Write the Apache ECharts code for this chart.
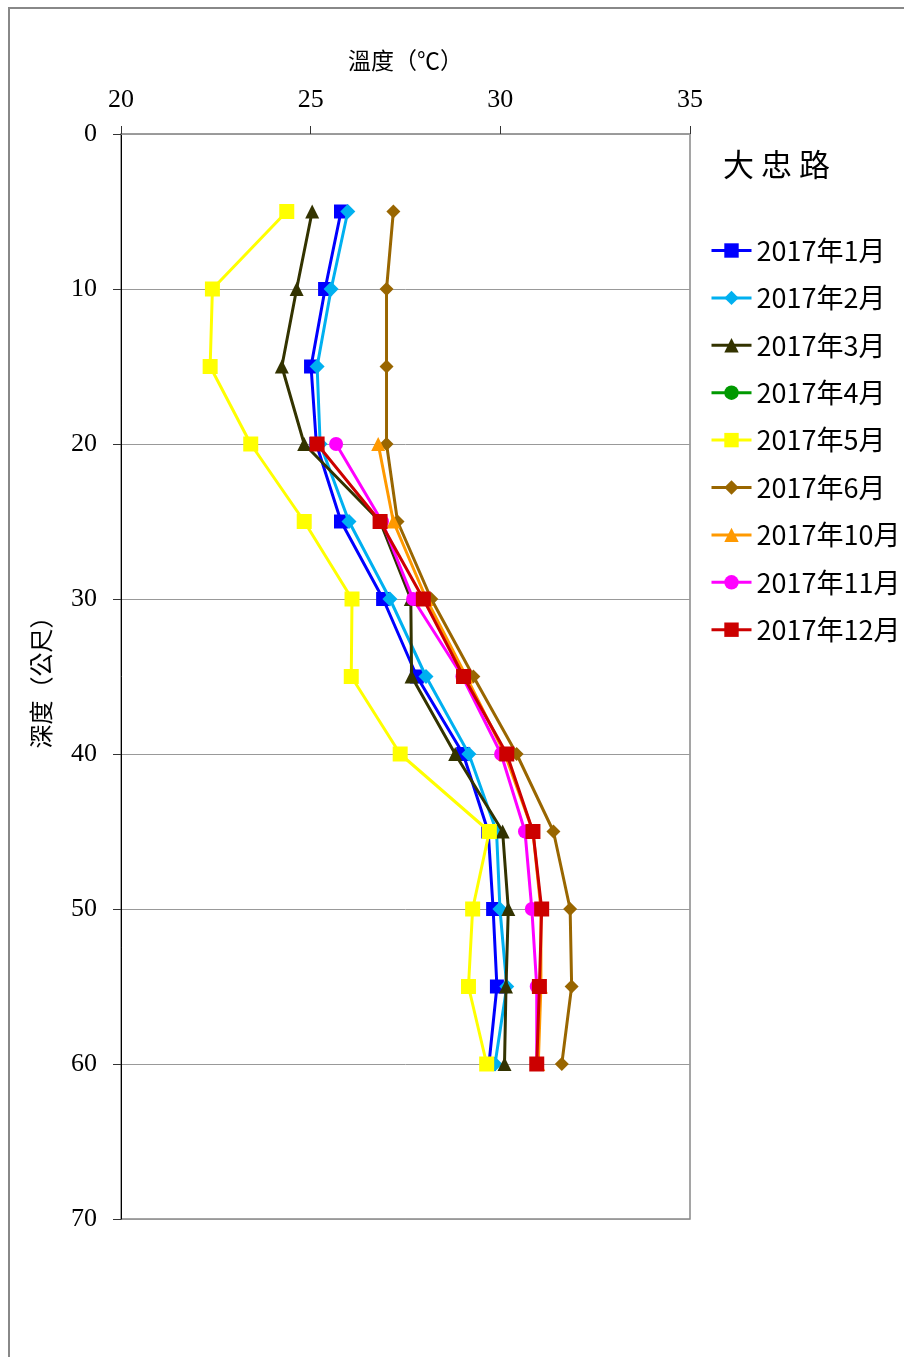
<!DOCTYPE html>
<html>
<head>
<meta charset="utf-8">
<script src="https://cdn.jsdelivr.net/npm/echarts@6/dist/echarts.min.js"></script>
<style>
  html, body { margin: 0; padding: 0; background: #fff; }
  #chart { width: 904px; height: 1357px; }
</style>
</head>
<body>
<div id="chart"></div>
<script>
// Depth profile of ground temperature at 大忠路, 2017
const depths = [5, 10, 15, 20, 25, 30, 35, 40, 45, 50, 55, 60];
const depthTicks = [0, 10, 20, 30, 40, 50, 60, 70];
const tempTicks = [20, 25, 30, 35];

const jan = [25.80, 25.38, 25.01, 25.15, 25.80, 26.91, 27.80, 29.02, 29.68, 29.81, 29.91, 29.70];
const feb = [25.98, 25.54, 25.17, 25.25, 26.01, 27.09, 28.04, 29.17, 29.90, 29.99, 30.17, 29.86];
const mar = [25.04, 24.63, 24.24, 24.83, 26.83, 27.64, 27.66, 28.81, 30.06, 30.21, 30.15, 30.11];
const apr = [];
const may = [24.37, 22.41, 22.35, 23.42, 24.83, 26.09, 26.07, 27.36, 29.71, 29.27, 29.16, 29.64];
const jun = [27.18, 27.00, 27.00, 27.00, 27.29, 28.18, 29.29, 30.43, 31.40, 31.84, 31.88, 31.62];
const oct = [null, null, null, 26.78, 27.18, 28.05, 29.10, 30.12, 30.86, 31.07, 31.07, 31.00];
const nov = [null, null, null, 25.67, 26.88, 27.70, 29.00, 30.02, 30.65, 30.83, 30.96, 30.96];
const dec = [null, null, null, 25.17, 26.83, 27.97, 29.03, 30.17, 30.86, 31.09, 31.03, 30.96];

const monthNames = ['2017年1月', '2017年2月', '2017年3月', '2017年4月', '2017年5月',
                    '2017年6月', '2017年10月', '2017年11月', '2017年12月'];
const monthTemps = [jan, feb, mar, apr, may, jun, oct, nov, dec];
const colors = ['#0000FF', '#00B0F0', '#333300', '#009900', '#FFFF00',
                '#996600', '#FF9900', '#FF00FF', '#CC0000'];
const symbols = ['rect', 'diamond', 'triangle', 'circle', 'rect',
                 'diamond', 'triangle', 'circle', 'rect'];
const symbolSizes = [14, 15, 14, 14, 15, 14, 14, 14, 15];

const serif = '"Liberation Serif", "DejaVu Serif", serif';
const cjk = '"Noto Sans CJK TC", "Noto Sans", sans-serif';

const series = monthNames.map((name, i) => ({
  name: name,
  type: 'line',
  data: monthTemps[i].map((t, k) => t == null ? null : [t, depths[k]]).filter(p => p),
  symbol: symbols[i],
  symbolSize: symbolSizes[i],
  showAllSymbol: true,
  lineStyle: { color: colors[i], width: 3 },
  itemStyle: { color: colors[i] },
  emphasis: { disabled: true },
  animation: false,
  z: 2 + i
}));

const chart = echarts.init(document.getElementById('chart'), null, { renderer: 'canvas' });
chart.setOption({
  backgroundColor: '#fff',
  animation: false,
  title: {
    text: '大 忠 路',
    left: 718,
    top: 144,
    textStyle: { fontFamily: cjk, fontSize: 31, fontWeight: 'normal', color: '#000' }
  },
  legend: {
    orient: 'vertical',
    left: 710,
    top: 237,
    padding: 0,
    itemWidth: 40,
    itemHeight: 18,
    itemGap: 20.4,
    data: monthNames,
    lineStyle: { width: 3 },
    textStyle: { fontFamily: cjk, fontSize: 27, color: '#000' }
  },
  grid: {
    left: 121, right: 214, top: 134, bottom: 138,
    show: true, borderColor: '#888', borderWidth: 1.5,
    containLabel: false
  },
  xAxis: {
    type: 'value',
    position: 'top',
    min: 20, max: 35, interval: 5,
    name: '溫度（℃）',
    nameLocation: 'middle',
    nameGap: 62,
    nameTextStyle: { fontFamily: cjk, fontSize: 23, color: '#000' },
    axisLine: { show: true, onZero: false, lineStyle: { color: '#999', width: 1.5 } },
    axisTick: { show: true, inside: false, length: 8, lineStyle: { color: '#333' } },
    axisLabel: {
      fontFamily: serif, fontSize: 26, color: '#000', margin: 21,
      formatter: v => tempTicks.includes(v) ? String(v) : ''
    },
    splitLine: { show: false }
  },
  yAxis: {
    type: 'value',
    inverse: true,
    min: 0, max: 70, interval: 10,
    name: '深度（公尺）',
    nameLocation: 'middle',
    nameGap: 68,
    nameRotate: 90,
    nameTextStyle: { fontFamily: cjk, fontSize: 24, color: '#000' },
    axisLine: { show: true, onZero: false, lineStyle: { color: '#000', width: 1 } },
    axisTick: { show: true, inside: false, length: 8, lineStyle: { color: '#333' } },
    axisLabel: {
      fontFamily: serif, fontSize: 26, color: '#000', margin: 24,
      formatter: v => depthTicks.includes(v) ? String(v) : ''
    },
    splitLine: { show: true, lineStyle: { color: '#999', width: 1 } }
  },
  graphic: [{
    type: 'rect',
    shape: { x: 9, y: 8, width: 1000, height: 1400 },
    style: { fill: 'none', stroke: '#888', lineWidth: 2 },
    silent: true,
    z: -1
  }],
  series: series
});
</script>
</body>
</html>
